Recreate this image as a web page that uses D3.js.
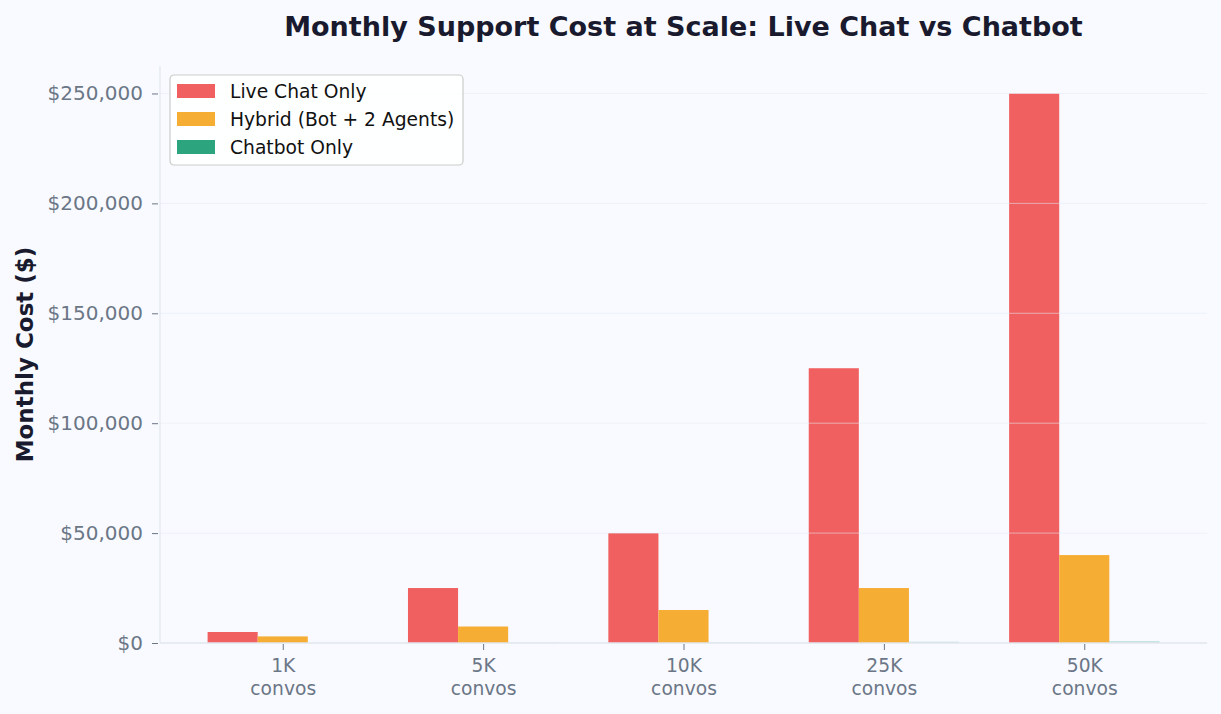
<!DOCTYPE html>
<html>
<head>
<meta charset="utf-8">
<script src="https://cdn.jsdelivr.net/npm/d3@7"></script>
<style>
  body { margin: 0; background: #f8faff; }
  svg { font-family: "DejaVu Sans", sans-serif; }
</style>
</head>
<body>
<svg id="chart" width="1221" height="714"></svg>
<script>
let categories = ["1K", "5K", "10K", "25K", "50K"];
let seriesNames = ["Live Chat Only", "Hybrid (Bot + 2 Agents)", "Chatbot Only"];
let liveChat = [5000, 25000, 50000, 125000, 250000];
let hybrid = [3000, 7500, 15000, 25000, 40000];
let chatbot = [50, 100, 200, 600, 900];
let yTicks = [0, 50000, 100000, 150000, 200000, 250000];
let colors = ["#f06060", "#f6ad33", "#2ca57f"];

let series = [liveChat, hybrid, chatbot];

let width = 1221, height = 714;
let margin = {left: 160, right: 14, top: 66, bottom: 71};

let svg = d3.select("#chart");
svg.append("rect").attr("width", width).attr("height", height).attr("fill", "#f8faff");

// x as index positions, like a grouped bar with offsets
let x = d3.scaleLinear().domain([-0.6125, 4.6125]).range([margin.left, width - margin.right]);
let y = d3.scaleLinear().domain([0, 262500]).range([height - margin.bottom, margin.top]);
let barW = x(0.25) - x(0);

// bars
series.forEach(function(vals, s){
  svg.append("g")
     .selectAll("rect")
     .data(vals)
     .enter()
     .append("rect")
     .attr("x", (d, i) => x(i + (s - 1) * 0.25 - 0.125))
     .attr("y", d => y(d))
     .attr("width", barW)
     .attr("height", d => y(0) - y(d))
     .attr("fill", colors[s])
     .attr("opacity", s == 2 ? 0.25 : 1);
});

// grid over bars
svg.append("g")
   .selectAll("line")
   .data(yTicks.slice(1))
   .enter()
   .append("line")
   .attr("x1", margin.left).attr("x2", width - margin.right)
   .attr("y1", d => y(d)).attr("y2", d => y(d))
   .attr("stroke", "#e6eaf2")
   .attr("stroke-opacity", 0.55)
   .attr("stroke-width", 1);

// spines
svg.append("line")
   .attr("x1", margin.left).attr("x2", margin.left)
   .attr("y1", margin.top).attr("y2", y(0))
   .attr("stroke", "#e2e6ee").attr("stroke-width", 1.2);
svg.append("line")
   .attr("x1", margin.left).attr("x2", width - margin.right)
   .attr("y1", y(0)).attr("y2", y(0))
   .attr("stroke", "#e2e6ee").attr("stroke-width", 1.5);

// y axis
let yAxis = d3.axisLeft(y)
              .tickValues(yTicks)
              .tickSize(6)
              .tickPadding(9)
              .tickFormat(d => "$" + d3.format(",")(d));
let yG = svg.append("g").attr("transform", `translate(${margin.left - 2},0)`).call(yAxis);
yG.select(".domain").remove();
yG.selectAll(".tick line").attr("stroke", "#6b7686");
yG.selectAll(".tick text")
  .attr("fill", "#6b7686")
  .style("font-size", "20px")
  .style("font-family", "DejaVu Sans");

// x axis
let xAxis = d3.axisBottom(x)
              .tickValues(d3.range(categories.length))
              .tickSize(6)
              .tickFormat("");
let xG = svg.append("g").attr("transform", `translate(0,${y(0) + 1})`).call(xAxis);
xG.select(".domain").remove();
xG.selectAll(".tick line").attr("stroke", "#6b7686");
xG.selectAll(".tick")
  .append("text")
  .attr("fill", "#6b7686")
  .attr("text-anchor", "middle")
  .style("font-size", "18.7px")
  .style("font-family", "DejaVu Sans")
  .each(function(d){
    let t = d3.select(this);
    t.append("tspan").attr("x", 0).attr("y", 28).text(categories[d]);
    t.append("tspan").attr("x", 0).attr("y", 51).text("convos");
  });

// title
svg.append("text")
   .attr("x", (margin.left + width - margin.right) / 2)
   .attr("y", 36)
   .attr("text-anchor", "middle")
   .attr("fill", "#1a1a2e")
   .style("font-size", "27px")
   .style("font-weight", "bold")
   .text("Monthly Support Cost at Scale: Live Chat vs Chatbot");

// y label
svg.append("text")
   .attr("transform", `translate(33,${(margin.top + y(0)) / 2}) rotate(-90)`)
   .attr("text-anchor", "middle")
   .attr("fill", "#1a1a2e")
   .style("font-size", "23px")
   .style("font-weight", "bold")
   .text("Monthly Cost ($)");

// legend
let legend = svg.append("g").attr("transform", "translate(170,75)");
legend.append("rect")
      .attr("width", 293).attr("height", 90).attr("rx", 4)
      .attr("fill", "#ffffff").attr("fill-opacity", 0.85)
      .attr("stroke", "#cccccc").attr("stroke-width", 1.2);
seriesNames.forEach(function(name, i){
  legend.append("rect")
        .attr("x", 7).attr("y", 9 + i * 28)
        .attr("width", 38).attr("height", 14)
        .attr("fill", colors[i]);
  legend.append("text")
        .attr("x", 60).attr("y", 23 + i * 28)
        .attr("fill", "#111111")
        .style("font-size", "18.7px")
        .text(name);
});
</script>
</body>
</html>
